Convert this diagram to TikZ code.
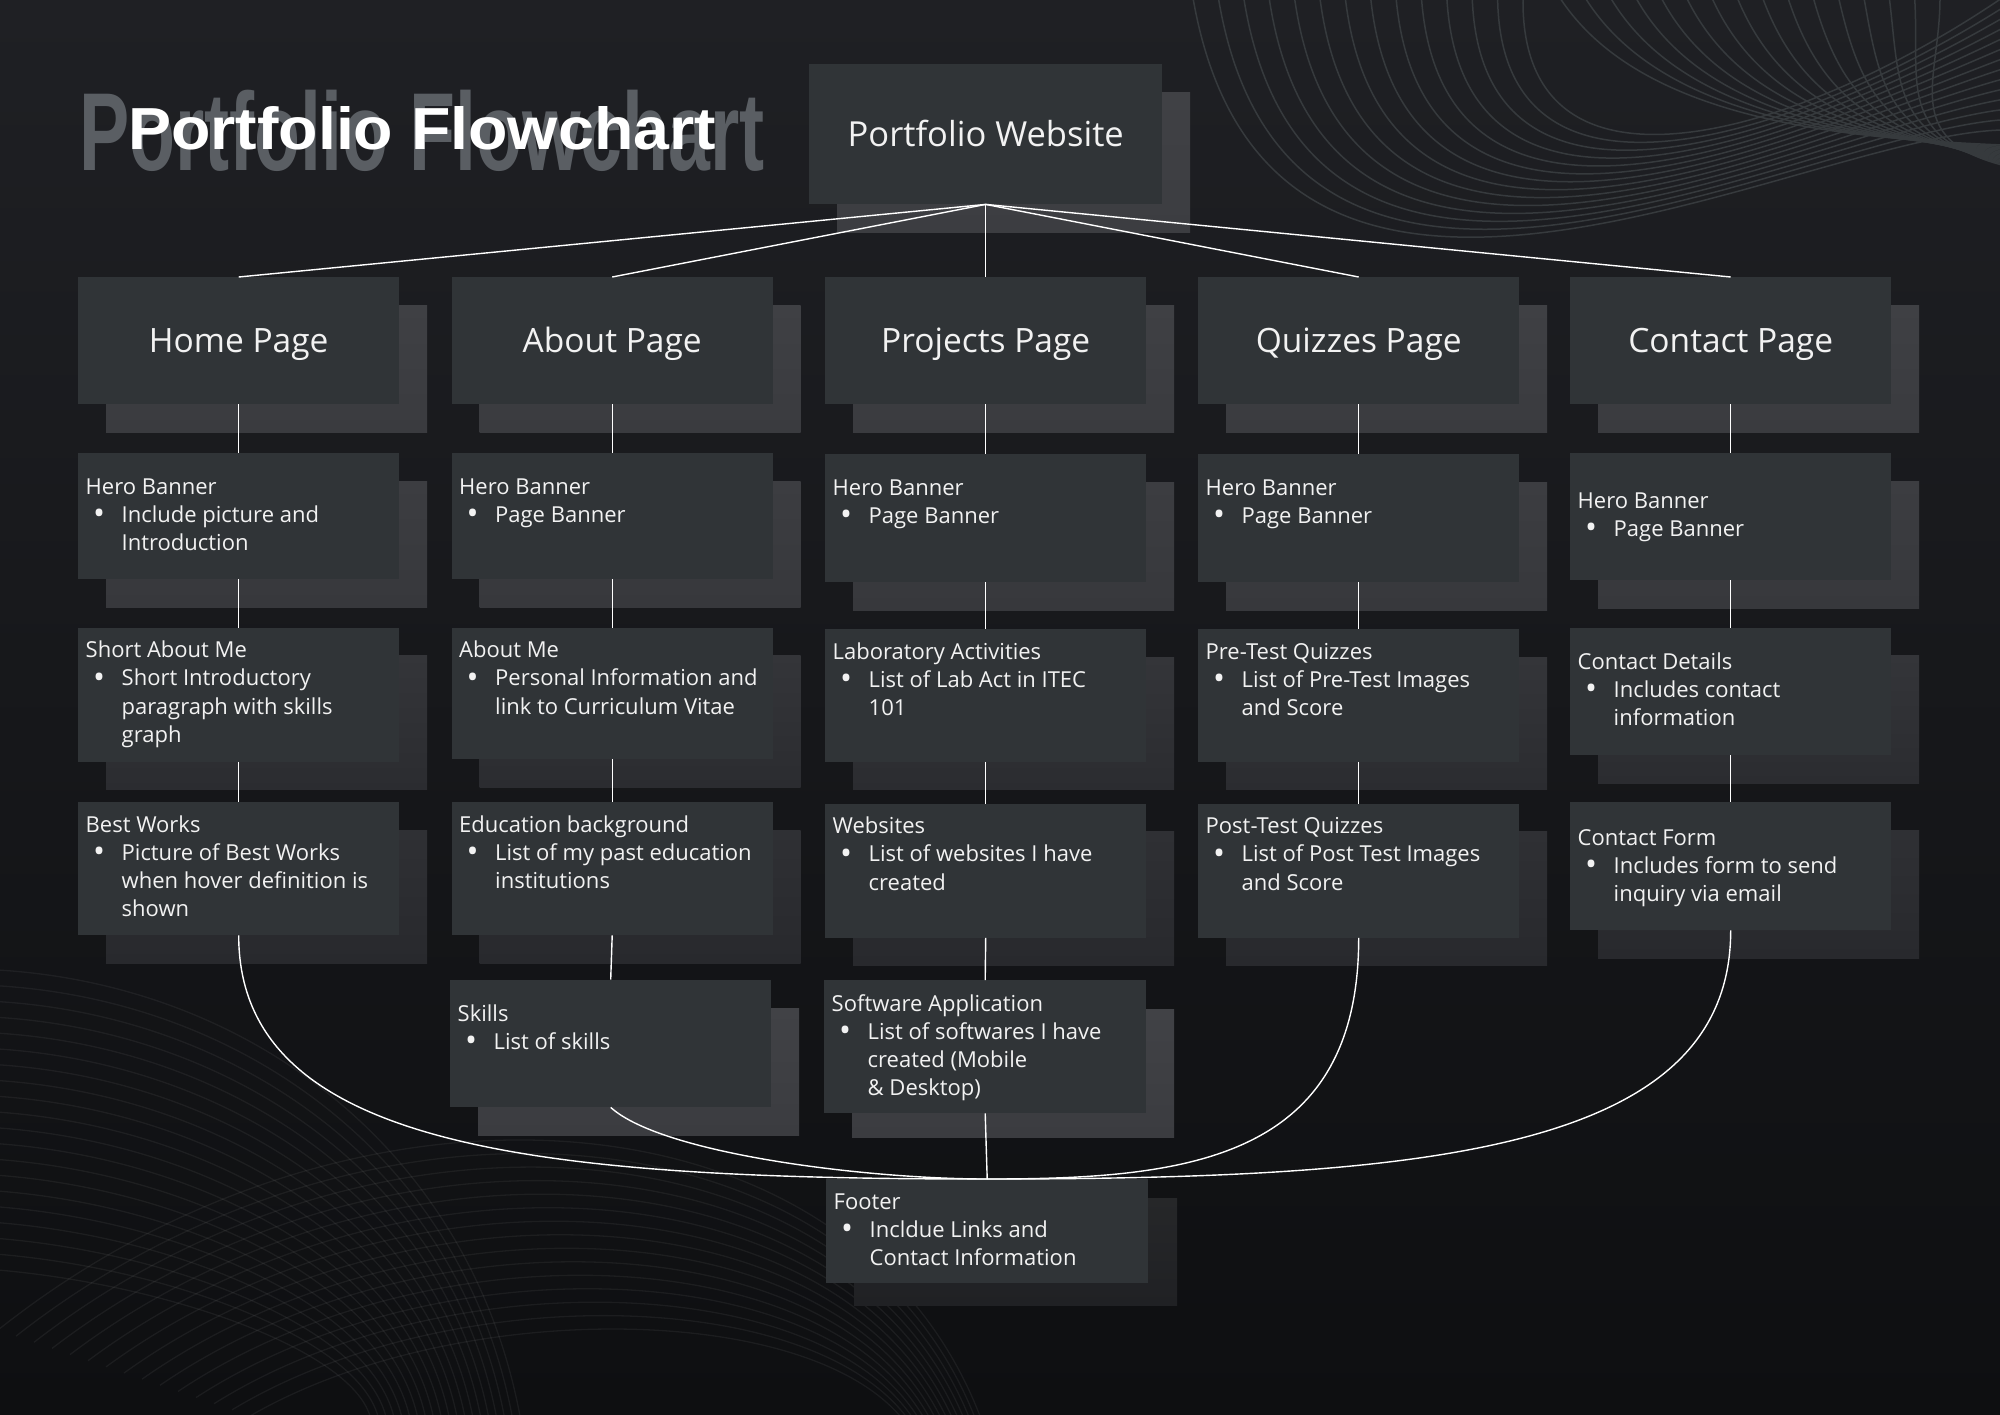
\documentclass[tikz,border=0pt]{standalone}
\usepackage{fontspec}
\setmainfont{Open Sans}
\newfontfamily\titlefont{Liberation Sans}
\usetikzlibrary{calc}

\definecolor{bgtop}{HTML}{1F2024}
\definecolor{bgbot}{HTML}{0E0F11}
\definecolor{boxfill}{HTML}{303437}
\definecolor{titlegray}{HTML}{5A5E63}
\definecolor{ink}{HTML}{F2F2F2}
\definecolor{waveline}{HTML}{363A3D}
% shadow tones, upper and lower
\definecolor{rootU}{HTML}{404145}  \definecolor{rootL}{HTML}{3C3D41}
\definecolor{pageU}{HTML}{3F4044}  \definecolor{pageL}{HTML}{3A3B3F}
\definecolor{heroU}{HTML}{3C3D41}  \definecolor{heroL}{HTML}{37383C}
\definecolor{midU}{HTML}{343539}   \definecolor{midL}{HTML}{2B2C30}
\definecolor{lowU}{HTML}{2F3034}   \definecolor{lowL}{HTML}{28292D}
\definecolor{lastU}{HTML}{414246}  \definecolor{lastL}{HTML}{3B3C40}
\definecolor{footU}{HTML}{262729}  \definecolor{footL}{HTML}{202124}

\tikzset{
  cardbox/.style={rectangle, fill=boxfill, inner sep=0pt, anchor=north west},
  headbox/.style={cardbox, text=ink, font=\fontsize{33.5}{40}\selectfont,
                  text height=24pt, text depth=0pt},
  bodytext/.style={anchor=base west, inner sep=0pt, text=ink,
                   font=\fontsize{22}{28.3}\selectfont},
  link/.style={draw=white, line width=1.4pt},
  wavehi/.style={draw=waveline, line width=1.5pt},
  wavelo/.style={draw=white, draw opacity=0.055, line width=1.3pt},
}

% drop shadow behind a card: x, y, w, h, upper colour, lower colour
\newcommand\castshade[6]{\shade[top color=#5, bottom color=#6] (#1,#2) rectangle ++(#3,#4);}
% bullet line with hanging indent
\newcommand\bul[1]{\makebox[36pt][l]{\hspace{7.5pt}\raisebox{-2.6pt}{\scalebox{1.45}{\textbullet}}}\parbox[t]{268pt}{\raggedright #1}}
% text block of a card: card name, baseline offset, heading, bullet text
\newcommand\cardtext[4]{\node[bodytext] (#1t) at ($(#1.north west)+(7.5,#2)$)
  {\parbox[t]{310pt}{\raggedright #3\\\bul{#4}}};}

\begin{document}
\begin{tikzpicture}[x=1pt,y=-1pt]
\useasboundingbox (0,0) rectangle (2000,1414);
\clip (0,0) rectangle (2000,1414);
\shade[top color=bgtop, bottom color=bgbot] (0,0) rectangle (2000,1414);

% ornamental line waves, upper right: deep loops rising to the corner
\foreach \i in {0,...,13}{
  \pgfmathsetmacro\t{\i/13}
  \draw[wavehi] ({1193+330*\t},-2) .. controls ({1270+250*\t},{440-220*\t})
      and (1800,135) .. (2002,{130-132*\t});
}
% ... and shallow strands falling into the same waist
\foreach \i in {0,...,15}{
  \pgfmathsetmacro\t{\i/15}
  \draw[wavehi] ({1560+380*\t},-2) .. controls ({1640+300*\t},{120-40*\t})
      and ({1840+60*\t},138) .. (2002,{145+20*\t});
}
% ornamental line waves, lower left
\foreach \i in {0,...,19}{
  \pgfmathsetmacro\t{\i/19}
  \draw[wavelo] (-2,{970+300*\t}) .. controls ({250-80*\t},{985+300*\t})
      and ({470-120*\t},{1150+200*\t}) .. ({520-150*\t},1416);
}
\foreach \i in {0,...,14}{
  \pgfmathsetmacro\t{\i/14}
  \draw[wavelo] ({-2+252*\t},{1330+86*\t}) .. controls ({350+100*\t},{1050+250*\t})
      and ({850-50*\t},{1080+220*\t}) .. ({980-80*\t},1416);
}

% title
\node[anchor=base west, inner sep=0pt, text=titlegray] (titleback) at (79,170)
  {\scalebox{1.167}[1.72]{\titlefont\bfseries\fontsize{64.5}{70}\selectfont Portfolio Flowchart}};
\node[anchor=base west, inner sep=0pt, text=white] (title) at (128,149)
  {\scalebox{1}[0.92]{\titlefont\bfseries\fontsize{64.5}{70}\selectfont Portfolio Flowchart}};

% shadows
\castshade{837}{92}{353}{140}{rootU}{rootL}
\foreach \x in {78,451.5,825,1198,1570}{
  \castshade{\x+28}{305}{321}{127}{pageU}{pageL}
}
\castshade{106}{481}{321}{126}{heroU}{heroL}
\castshade{479.5}{481}{321}{126}{heroU}{heroL}
\castshade{853}{482}{321}{128}{heroU}{heroL}
\castshade{1226}{482}{321}{128}{heroU}{heroL}
\castshade{1598}{481}{321}{127}{heroU}{heroL}
\castshade{106}{655.5}{321}{134}{midU}{midL}
\castshade{479.5}{655.5}{321}{131.5}{midU}{midL}
\castshade{853}{657}{321}{132.5}{midU}{midL}
\castshade{1226}{657}{321}{132.5}{midU}{midL}
\castshade{1598}{655.5}{321}{127.5}{midU}{midL}
\castshade{106}{830}{321}{133}{lowU}{lowL}
\castshade{479.5}{830}{321}{133}{lowU}{lowL}
\castshade{853}{831.5}{321}{134}{lowU}{lowL}
\castshade{1226}{831.5}{321}{134}{lowU}{lowL}
\castshade{1598}{830}{321}{128}{lowU}{lowL}
\castshade{478}{1008}{321}{127.5}{lastU}{lastL}
\castshade{852}{1009}{322}{128}{lastU}{lastL}
\castshade{854}{1198}{323}{107}{footU}{footL}

% root and page cards
\node[headbox, minimum width=353, minimum height=140, font=\fontsize{34.5}{40}\selectfont] (root) at (809,64) {Portfolio Website};
\node[headbox, minimum width=321, minimum height=127] (home)  at (78,277)   {Home Page};
\node[headbox, minimum width=321, minimum height=127] (about) at (451.5,277) {About Page};
\node[headbox, minimum width=321, minimum height=127] (proj)  at (825,277)  {Projects Page};
\node[headbox, minimum width=321, minimum height=127] (quiz)  at (1198,277) {Quizzes Page};
\node[headbox, minimum width=321, minimum height=127] (cont)  at (1570,277) {Contact Page};

% section cards
\node[cardbox, minimum width=321, minimum height=126]   (h1) at (78,453) {};
\node[cardbox, minimum width=321, minimum height=134]   (h2) at (78,627.5) {};
\node[cardbox, minimum width=321, minimum height=133]   (h3) at (78,802) {};
\node[cardbox, minimum width=321, minimum height=126]   (a1) at (451.5,453) {};
\node[cardbox, minimum width=321, minimum height=131.5] (a2) at (451.5,627.5) {};
\node[cardbox, minimum width=321, minimum height=133]   (a3) at (451.5,802) {};
\node[cardbox, minimum width=321, minimum height=127.5] (a4) at (450,979.5) {};
\node[cardbox, minimum width=321, minimum height=128]   (p1) at (825,454) {};
\node[cardbox, minimum width=321, minimum height=132.5] (p2) at (825,629) {};
\node[cardbox, minimum width=321, minimum height=134]   (p3) at (825,803.5) {};
\node[cardbox, minimum width=322, minimum height=133]   (p4) at (824,980) {};
\node[cardbox, minimum width=321, minimum height=128]   (q1) at (1198,454) {};
\node[cardbox, minimum width=321, minimum height=132.5] (q2) at (1198,629) {};
\node[cardbox, minimum width=321, minimum height=134]   (q3) at (1198,803.5) {};
\node[cardbox, minimum width=321, minimum height=127]   (c1) at (1570,453) {};
\node[cardbox, minimum width=321, minimum height=127.5] (c2) at (1570,627.5) {};
\node[cardbox, minimum width=321, minimum height=128]   (c3) at (1570,802) {};
\node[cardbox, minimum width=322, minimum height=104]   (foot) at (826,1179) {};

% connectors
\foreach \n in {home,about,proj,quiz,cont}{\draw[link] (root.south) -- (\n.north);}
\draw[link] (home.south) -- (h1.north);  \draw[link] (h1.south) -- (h2.north);  \draw[link] (h2.south) -- (h3.north);
\draw[link] (about.south) -- (a1.north); \draw[link] (a1.south) -- (a2.north);  \draw[link] (a2.south) -- (a3.north);
\draw[link] (a3.south) -- (a4.north);
\draw[link] (proj.south) -- (p1.north);  \draw[link] (p1.south) -- (p2.north);  \draw[link] (p2.south) -- (p3.north);
\draw[link] (p3.south) -- (p4.north);
\draw[link] (quiz.south) -- (q1.north);  \draw[link] (q1.south) -- (q2.north);  \draw[link] (q2.south) -- (q3.north);
\draw[link] (cont.south) -- (c1.north);  \draw[link] (c1.south) -- (c2.north);  \draw[link] (c2.south) -- (c3.north);
\draw[link] (h3.south) .. controls +(0,213) and +(-450,0) .. (foot.north);
\draw[link] (a4.south) .. controls +(52,47) and +(-119,0) .. (foot.north);
\draw[link] (p4.south) -- (foot.north);
\draw[link] (q3.south) .. controls +(0,223) and +(199,0) .. (foot.north);
\draw[link] (c3.south) .. controls +(0,218) and +(450,0) .. (foot.north);

% card texts
\cardtext{h1}{41}{Hero Banner}{Include picture and\\Introduction}
\cardtext{h2}{30}{Short About Me}{Short Introductory\\paragraph with skills\\graph}
\cardtext{h3}{30}{Best Works}{Picture of Best Works\\when hover definition is\\shown}
\cardtext{a1}{41}{Hero Banner}{Page Banner}
\cardtext{a2}{30}{About Me}{Personal Information and\\link to Curriculum Vitae}
\cardtext{a3}{30}{Education background}{List of my past education\\institutions}
\cardtext{a4}{41.5}{Skills}{List of skills}
\cardtext{p1}{41}{Hero Banner}{Page Banner}
\cardtext{p2}{30}{Laboratory Activities}{List of Lab Act in ITEC\\101}
\cardtext{p3}{30}{Websites}{List of websites I have\\created}
\cardtext{p4}{31}{Software Application}{List of softwares I have\\created (Mobile\\\& Desktop)}
\cardtext{q1}{41}{Hero Banner}{Page Banner}
\cardtext{q2}{30}{Pre-Test Quizzes}{List of Pre-Test Images\\and Score}
\cardtext{q3}{30}{Post-Test Quizzes}{List of Post Test Images\\and Score}
\cardtext{c1}{55}{Hero Banner}{Page Banner}
\cardtext{c2}{41.5}{Contact Details}{Includes contact\\information}
\cardtext{c3}{43}{Contact Form}{Includes form to send\\inquiry via email}
\cardtext{foot}{30}{Footer}{Incldue Links and\\Contact Information}
\end{tikzpicture}
\end{document}
